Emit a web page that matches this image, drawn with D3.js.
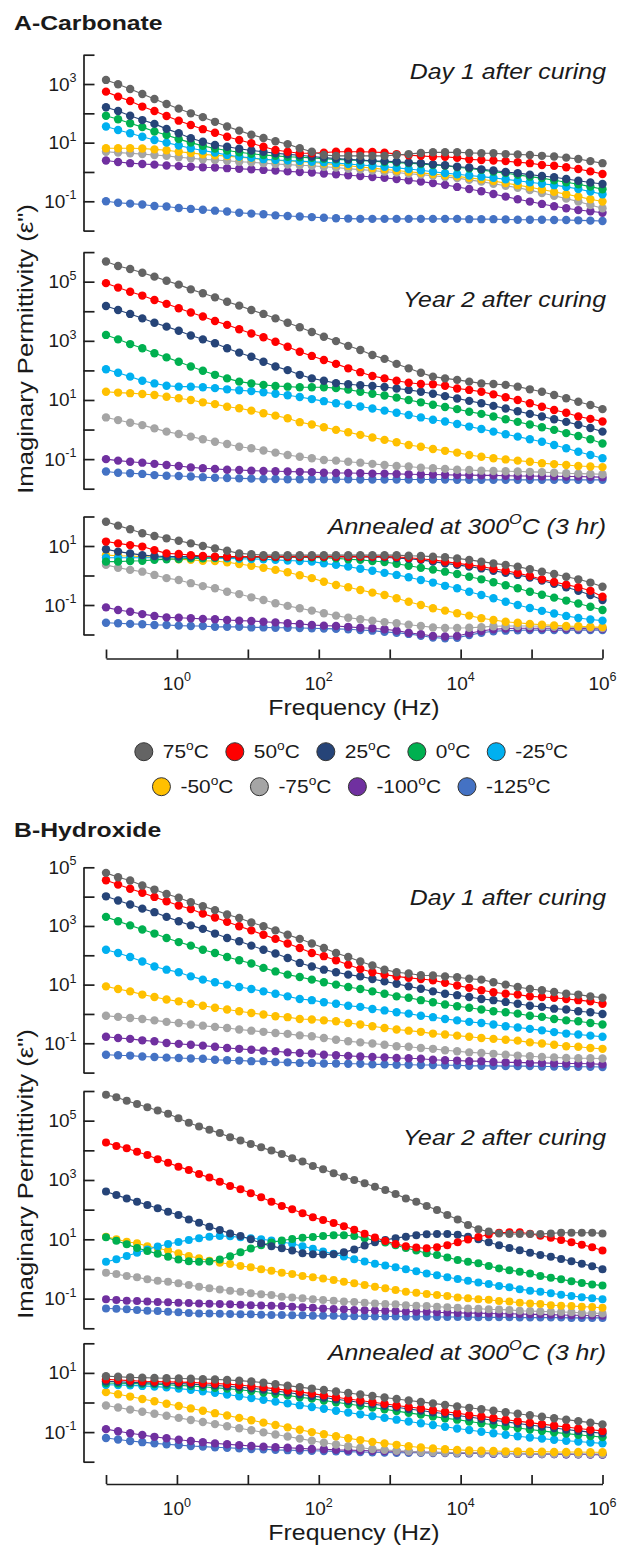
<!DOCTYPE html>
<html>
<head>
<meta charset="utf-8">
<script src="https://cdn.jsdelivr.net/npm/d3@7"></script>
<style>
  body { margin: 0; background: #fff; }
  text { font-family: "Liberation Sans", Arial, Helvetica, sans-serif; fill: #1a1a1a; }
</style>
</head>
<body>
<svg width="618" height="1547"></svg>
<script>
/****** DATA ******/

// Frequency sweep (Hz) used by most panels: 42 points
var freqHz = [0.1,0.148,0.219,0.325,0.482,0.714,1.06,1.57,2.32,3.44,5.10,7.55,11.2,16.6,24.5,36.4,53.9,79.8,
    118,175,260,385,570,845,1250,1850,2750,4070,6030,8930,13200,19600,29000,43100,63800,94600,140000,208000,308000,456000,675000,1000000];

// Finer sweep used by the hydroxide "Year 2" panel: 49 points
var freqHzB2 = [0.1,0.140,0.196,0.274,0.383,0.536,0.750,1.05,1.47,2.05,2.87,4.02,5.62,7.87,11.0,15.4,21.5,30.1,42.2,59.0,82.5,
    115,162,226,316,443,619,866,1210,1690,2370,3320,4640,6490,9090,12700,17800,24900,34800,48700,68100,95300,133000,187000,261000,365000,511000,715000,1000000];

var temps = ["75", "50", "25", "0", "-25", "-50", "-75", "-100", "-125"];
var colors = ["#646464", "#ff0000", "#264478", "#00b050", "#00b0f0", "#ffc000", "#a5a5a5", "#7030a0", "#4472c4"];

// Each panel: one row per temperature (same order as temps), values are log10(e'')
var carbDay1 = [
  [3.14,2.99,2.83,2.66,2.49,2.32,2.16,2.00,1.87,1.71,1.55,1.41,1.27,1.16,1.05,0.95,0.81,0.69,0.58,0.55,0.55,0.55,0.55,0.55,0.58,0.61,0.65,0.67,0.67,0.67,0.65,0.64,0.64,0.61,0.60,0.58,0.55,0.53,0.49,0.44,0.37,0.30],
  [2.74,2.57,2.42,2.23,2.08,1.91,1.75,1.60,1.46,1.34,1.20,1.09,0.98,0.86,0.75,0.69,0.64,0.64,0.66,0.69,0.69,0.69,0.68,0.66,0.61,0.57,0.55,0.52,0.52,0.48,0.43,0.41,0.39,0.37,0.33,0.30,0.24,0.21,0.16,0.10,0.02,-0.07],
  [2.21,2.08,1.92,1.77,1.64,1.47,1.32,1.15,1.03,0.92,0.86,0.79,0.73,0.69,0.64,0.60,0.57,0.53,0.49,0.46,0.43,0.41,0.38,0.37,0.35,0.32,0.30,0.26,0.23,0.18,0.15,0.09,0.05,0.00,-0.04,-0.09,-0.14,-0.18,-0.24,-0.30,-0.36,-0.41],
  [1.92,1.80,1.66,1.53,1.38,1.26,1.12,1.00,0.89,0.80,0.73,0.67,0.62,0.58,0.55,0.52,0.50,0.48,0.45,0.43,0.41,0.39,0.37,0.34,0.32,0.30,0.27,0.24,0.21,0.16,0.12,0.07,0.01,-0.04,-0.10,-0.16,-0.21,-0.28,-0.35,-0.42,-0.50,-0.59],
  [1.55,1.43,1.32,1.20,1.09,1.00,0.90,0.81,0.73,0.66,0.58,0.52,0.48,0.43,0.41,0.39,0.37,0.35,0.33,0.30,0.27,0.24,0.21,0.18,0.14,0.10,0.06,0.01,-0.04,-0.08,-0.12,-0.16,-0.20,-0.25,-0.30,-0.35,-0.40,-0.45,-0.51,-0.58,-0.67,-0.76],
  [0.81,0.81,0.81,0.80,0.77,0.74,0.69,0.65,0.60,0.57,0.54,0.50,0.47,0.43,0.40,0.38,0.35,0.33,0.29,0.25,0.21,0.17,0.13,0.09,0.05,0.01,-0.03,-0.07,-0.11,-0.15,-0.20,-0.25,-0.31,-0.38,-0.45,-0.52,-0.60,-0.68,-0.76,-0.84,-0.93,-1.01],
  [0.69,0.66,0.64,0.61,0.58,0.55,0.50,0.47,0.43,0.41,0.38,0.35,0.33,0.30,0.27,0.25,0.23,0.21,0.18,0.15,0.11,0.08,0.05,0.01,-0.02,-0.06,-0.09,-0.13,-0.17,-0.21,-0.27,-0.33,-0.40,-0.47,-0.54,-0.62,-0.72,-0.81,-0.91,-1.01,-1.13,-1.24],
  [0.39,0.34,0.30,0.27,0.25,0.22,0.20,0.18,0.16,0.15,0.13,0.11,0.09,0.07,0.05,0.02,0.00,-0.02,-0.05,-0.08,-0.11,-0.14,-0.17,-0.20,-0.24,-0.28,-0.33,-0.38,-0.44,-0.51,-0.58,-0.66,-0.75,-0.84,-0.93,-1.01,-1.09,-1.17,-1.24,-1.30,-1.34,-1.39],
  [-1.00,-1.05,-1.08,-1.11,-1.16,-1.18,-1.23,-1.26,-1.29,-1.32,-1.35,-1.39,-1.42,-1.44,-1.48,-1.50,-1.52,-1.54,-1.56,-1.58,-1.59,-1.60,-1.60,-1.60,-1.60,-1.60,-1.60,-1.60,-1.60,-1.60,-1.61,-1.61,-1.61,-1.62,-1.63,-1.63,-1.63,-1.64,-1.64,-1.65,-1.66,-1.67]
];

var carbYear2 = [
  [5.68,5.53,5.43,5.30,5.17,5.03,4.90,4.74,4.61,4.47,4.32,4.19,4.04,3.91,3.76,3.61,3.46,3.30,3.14,2.99,2.83,2.69,2.52,2.39,2.22,2.07,1.92,1.79,1.73,1.68,1.62,1.56,1.54,1.51,1.45,1.36,1.28,1.17,1.06,0.94,0.83,0.69],
  [4.95,4.80,4.66,4.53,4.38,4.25,4.10,3.96,3.82,3.67,3.54,3.39,3.25,3.12,2.97,2.80,2.63,2.49,2.35,2.22,2.07,1.94,1.81,1.73,1.65,1.58,1.54,1.53,1.48,1.39,1.34,1.28,1.19,1.09,1.00,0.89,0.77,0.66,0.57,0.44,0.36,0.27],
  [4.18,4.04,3.91,3.76,3.61,3.48,3.34,3.18,3.05,2.92,2.75,2.60,2.46,2.29,2.13,2.01,1.85,1.73,1.65,1.57,1.53,1.50,1.47,1.44,1.39,1.34,1.28,1.21,1.13,1.05,0.97,0.89,0.80,0.71,0.62,0.53,0.44,0.35,0.26,0.16,0.05,-0.07],
  [3.20,3.05,2.89,2.75,2.58,2.44,2.29,2.13,1.99,1.85,1.73,1.62,1.56,1.51,1.47,1.45,1.43,1.43,1.43,1.40,1.35,1.28,1.21,1.15,1.08,1.00,0.92,0.84,0.76,0.69,0.60,0.53,0.44,0.35,0.26,0.17,0.08,-0.01,-0.12,-0.22,-0.33,-0.47],
  [2.04,1.92,1.79,1.65,1.56,1.48,1.45,1.45,1.43,1.40,1.36,1.33,1.30,1.26,1.21,1.16,1.10,1.03,0.96,0.89,0.84,0.78,0.71,0.64,0.57,0.49,0.41,0.33,0.27,0.19,0.10,0.02,-0.07,-0.16,-0.24,-0.33,-0.41,-0.52,-0.63,-0.75,-0.86,-0.97],
  [1.28,1.25,1.23,1.20,1.17,1.11,1.06,1.00,0.92,0.86,0.77,0.72,0.64,0.55,0.47,0.38,0.25,0.17,0.08,-0.01,-0.09,-0.18,-0.27,-0.35,-0.43,-0.52,-0.58,-0.66,-0.72,-0.78,-0.86,-0.92,-0.97,-1.01,-1.05,-1.09,-1.14,-1.17,-1.20,-1.23,-1.25,-1.27],
  [0.41,0.32,0.23,0.15,0.04,-0.07,-0.15,-0.24,-0.33,-0.41,-0.49,-0.58,-0.63,-0.71,-0.78,-0.86,-0.92,-0.97,-1.03,-1.05,-1.09,-1.12,-1.16,-1.20,-1.23,-1.25,-1.29,-1.31,-1.33,-1.36,-1.37,-1.39,-1.40,-1.41,-1.42,-1.43,-1.44,-1.46,-1.48,-1.49,-1.50,-1.51],
  [-1.00,-1.05,-1.09,-1.12,-1.16,-1.20,-1.23,-1.28,-1.31,-1.33,-1.36,-1.37,-1.39,-1.40,-1.41,-1.42,-1.43,-1.44,-1.46,-1.47,-1.47,-1.48,-1.49,-1.49,-1.50,-1.51,-1.52,-1.52,-1.53,-1.54,-1.54,-1.55,-1.55,-1.56,-1.57,-1.57,-1.58,-1.58,-1.59,-1.59,-1.60,-1.61],
  [-1.42,-1.46,-1.48,-1.50,-1.54,-1.56,-1.57,-1.59,-1.61,-1.63,-1.64,-1.65,-1.66,-1.67,-1.67,-1.68,-1.68,-1.68,-1.68,-1.68,-1.68,-1.69,-1.69,-1.69,-1.69,-1.69,-1.69,-1.69,-1.69,-1.70,-1.70,-1.70,-1.70,-1.70,-1.70,-1.70,-1.70,-1.70,-1.70,-1.70,-1.70,-1.70]
];

var carbAnneal = [
  [1.82,1.69,1.57,1.43,1.34,1.26,1.18,1.09,1.00,0.92,0.84,0.75,0.72,0.69,0.69,0.69,0.69,0.69,0.69,0.69,0.69,0.69,0.69,0.69,0.69,0.67,0.66,0.64,0.62,0.58,0.53,0.47,0.41,0.36,0.30,0.21,0.13,0.05,-0.04,-0.13,-0.24,-0.38],
  [1.15,1.09,1.03,0.98,0.86,0.75,0.73,0.69,0.66,0.64,0.64,0.64,0.64,0.64,0.64,0.64,0.64,0.64,0.64,0.64,0.64,0.64,0.64,0.64,0.63,0.60,0.57,0.53,0.47,0.41,0.36,0.30,0.23,0.16,0.08,-0.02,-0.13,-0.22,-0.31,-0.40,-0.52,-0.72],
  [0.89,0.81,0.75,0.69,0.66,0.64,0.64,0.64,0.64,0.63,0.63,0.63,0.63,0.63,0.63,0.63,0.63,0.63,0.63,0.63,0.63,0.63,0.62,0.62,0.59,0.57,0.53,0.47,0.41,0.36,0.30,0.24,0.16,0.09,0.02,-0.07,-0.17,-0.28,-0.40,-0.52,-0.66,-0.83],
  [0.47,0.47,0.49,0.50,0.53,0.55,0.56,0.58,0.58,0.60,0.62,0.62,0.62,0.62,0.62,0.62,0.62,0.61,0.60,0.58,0.55,0.53,0.49,0.46,0.40,0.33,0.26,0.20,0.13,0.05,-0.04,-0.13,-0.23,-0.33,-0.43,-0.55,-0.65,-0.75,-0.85,-0.95,-1.06,-1.17],
  [0.60,0.60,0.60,0.60,0.60,0.60,0.60,0.60,0.60,0.59,0.58,0.57,0.56,0.55,0.53,0.51,0.49,0.47,0.41,0.36,0.30,0.23,0.16,0.09,0.02,-0.06,-0.15,-0.24,-0.35,-0.43,-0.55,-0.66,-0.77,-0.89,-1.00,-1.10,-1.20,-1.29,-1.37,-1.44,-1.49,-1.53],
  [0.69,0.67,0.66,0.64,0.62,0.58,0.55,0.53,0.50,0.49,0.45,0.39,0.33,0.26,0.19,0.11,0.01,-0.09,-0.21,-0.32,-0.40,-0.49,-0.58,-0.66,-0.77,-0.89,-1.00,-1.11,-1.19,-1.28,-1.36,-1.45,-1.51,-1.57,-1.60,-1.64,-1.67,-1.69,-1.71,-1.72,-1.74,-1.75],
  [0.36,0.26,0.19,0.13,0.02,-0.09,-0.15,-0.26,-0.36,-0.43,-0.55,-0.63,-0.74,-0.83,-0.94,-1.03,-1.11,-1.19,-1.28,-1.36,-1.43,-1.48,-1.53,-1.58,-1.62,-1.67,-1.71,-1.76,-1.78,-1.78,-1.77,-1.75,-1.72,-1.71,-1.71,-1.71,-1.72,-1.74,-1.75,-1.76,-1.77,-1.78],
  [-1.08,-1.17,-1.23,-1.31,-1.37,-1.42,-1.43,-1.45,-1.47,-1.48,-1.51,-1.53,-1.54,-1.57,-1.59,-1.62,-1.64,-1.68,-1.70,-1.71,-1.74,-1.77,-1.79,-1.82,-1.87,-1.94,-1.99,-2.05,-2.07,-2.05,-1.96,-1.88,-1.82,-1.80,-1.79,-1.79,-1.79,-1.79,-1.80,-1.80,-1.80,-1.81],
  [-1.60,-1.62,-1.64,-1.65,-1.68,-1.68,-1.70,-1.71,-1.71,-1.74,-1.74,-1.74,-1.76,-1.76,-1.77,-1.77,-1.78,-1.79,-1.80,-1.81,-1.82,-1.85,-1.87,-1.91,-1.94,-1.98,-2.04,-2.10,-2.13,-2.11,-2.02,-1.94,-1.89,-1.87,-1.86,-1.85,-1.85,-1.85,-1.85,-1.85,-1.85,-1.85]
];

var hydDay1 = [
  [4.81,4.66,4.55,4.38,4.24,4.09,3.96,3.81,3.67,3.54,3.39,3.27,3.12,2.99,2.85,2.70,2.56,2.40,2.25,2.08,1.94,1.79,1.65,1.51,1.42,1.38,1.32,1.31,1.28,1.25,1.20,1.17,1.08,1.00,0.92,0.85,0.81,0.75,0.69,0.66,0.60,0.55],
  [4.56,4.41,4.27,4.13,3.99,3.84,3.70,3.58,3.42,3.29,3.14,2.99,2.85,2.70,2.56,2.40,2.25,2.08,1.97,1.83,1.68,1.53,1.42,1.34,1.28,1.23,1.19,1.15,1.06,0.97,0.89,0.81,0.74,0.69,0.66,0.60,0.58,0.55,0.51,0.47,0.43,0.35],
  [4.01,3.87,3.73,3.59,3.47,3.31,3.16,3.02,2.90,2.74,2.59,2.48,2.33,2.19,2.06,1.91,1.74,1.62,1.51,1.42,1.34,1.28,1.19,1.11,1.03,0.94,0.86,0.77,0.69,0.64,0.58,0.51,0.47,0.41,0.35,0.28,0.24,0.18,0.15,0.09,0.06,0.00],
  [3.31,3.16,3.02,2.88,2.74,2.59,2.45,2.33,2.19,2.08,1.94,1.83,1.72,1.57,1.45,1.34,1.26,1.17,1.08,1.00,0.92,0.85,0.77,0.69,0.60,0.55,0.47,0.40,0.32,0.26,0.21,0.15,0.09,0.06,0.01,-0.06,-0.10,-0.17,-0.22,-0.25,-0.31,-0.36],
  [2.19,2.08,1.94,1.79,1.62,1.51,1.42,1.28,1.17,1.08,1.00,0.92,0.85,0.77,0.69,0.60,0.51,0.47,0.40,0.35,0.28,0.24,0.17,0.12,0.06,0.01,-0.06,-0.11,-0.17,-0.22,-0.27,-0.31,-0.36,-0.42,-0.46,-0.51,-0.56,-0.62,-0.67,-0.70,-0.74,-0.78],
  [0.94,0.85,0.77,0.66,0.58,0.49,0.43,0.35,0.28,0.21,0.15,0.09,0.03,-0.02,-0.08,-0.11,-0.17,-0.19,-0.22,-0.25,-0.31,-0.36,-0.42,-0.48,-0.53,-0.57,-0.61,-0.67,-0.70,-0.74,-0.78,-0.82,-0.85,-0.88,-0.91,-0.97,-1.01,-1.05,-1.10,-1.12,-1.16,-1.19],
  [-0.06,-0.10,-0.14,-0.17,-0.22,-0.27,-0.31,-0.36,-0.40,-0.44,-0.48,-0.53,-0.57,-0.61,-0.65,-0.68,-0.73,-0.76,-0.82,-0.88,-0.93,-0.97,-1.01,-1.05,-1.10,-1.12,-1.16,-1.19,-1.24,-1.27,-1.31,-1.33,-1.36,-1.39,-1.42,-1.44,-1.47,-1.48,-1.50,-1.51,-1.51,-1.52],
  [-0.78,-0.82,-0.85,-0.90,-0.93,-0.99,-1.02,-1.05,-1.08,-1.12,-1.16,-1.19,-1.22,-1.25,-1.27,-1.31,-1.33,-1.35,-1.39,-1.41,-1.43,-1.45,-1.47,-1.48,-1.50,-1.51,-1.53,-1.56,-1.58,-1.59,-1.61,-1.61,-1.64,-1.65,-1.65,-1.67,-1.67,-1.68,-1.69,-1.69,-1.70,-1.72],
  [-1.39,-1.41,-1.42,-1.45,-1.47,-1.49,-1.50,-1.52,-1.53,-1.56,-1.58,-1.59,-1.61,-1.61,-1.64,-1.65,-1.67,-1.67,-1.69,-1.69,-1.70,-1.70,-1.72,-1.72,-1.73,-1.73,-1.74,-1.74,-1.75,-1.75,-1.77,-1.77,-1.77,-1.78,-1.78,-1.78,-1.79,-1.79,-1.79,-1.80,-1.80,-1.81]
];

var hydYear2 = [
  [5.87,5.79,5.67,5.56,5.45,5.34,5.23,5.08,4.93,4.80,4.69,4.58,4.44,4.33,4.21,4.10,3.99,3.88,3.73,3.62,3.47,3.36,3.23,3.11,3.00,2.89,2.77,2.66,2.53,2.38,2.27,2.12,1.99,1.82,1.67,1.48,1.34,1.26,1.20,1.18,1.18,1.18,1.18,1.20,1.22,1.22,1.22,1.22,1.20],
  [4.26,4.15,4.07,3.95,3.84,3.70,3.58,3.45,3.34,3.20,3.08,2.94,2.80,2.69,2.55,2.42,2.27,2.12,2.01,1.88,1.74,1.65,1.55,1.44,1.32,1.19,1.06,0.94,0.84,0.77,0.72,0.70,0.73,0.80,0.90,0.99,1.08,1.16,1.22,1.24,1.24,1.19,1.12,1.05,0.98,0.90,0.82,0.73,0.62],
  [2.61,2.49,2.38,2.27,2.16,2.05,1.93,1.82,1.67,1.56,1.42,1.31,1.20,1.11,1.00,0.87,0.77,0.70,0.62,0.53,0.50,0.49,0.50,0.56,0.66,0.79,0.90,0.98,1.04,1.09,1.14,1.17,1.18,1.18,1.15,1.09,1.00,0.90,0.80,0.71,0.63,0.55,0.47,0.41,0.34,0.26,0.18,0.09,-0.01],
  [1.07,0.95,0.83,0.71,0.61,0.51,0.41,0.32,0.26,0.24,0.25,0.32,0.43,0.56,0.69,0.80,0.89,0.96,1.01,1.05,1.08,1.11,1.14,1.14,1.11,1.04,0.96,0.89,0.80,0.71,0.62,0.53,0.47,0.39,0.30,0.24,0.19,0.10,0.02,-0.04,-0.09,-0.15,-0.24,-0.30,-0.35,-0.41,-0.47,-0.52,-0.56],
  [0.24,0.33,0.44,0.55,0.66,0.76,0.84,0.91,0.98,1.04,1.09,1.11,1.10,1.07,1.04,1.00,0.96,0.91,0.85,0.77,0.68,0.59,0.51,0.42,0.33,0.25,0.18,0.12,0.06,-0.01,-0.08,-0.15,-0.21,-0.28,-0.34,-0.40,-0.46,-0.51,-0.57,-0.62,-0.68,-0.73,-0.77,-0.82,-0.87,-0.91,-0.95,-0.99,-1.02],
  [1.09,1.00,0.92,0.87,0.77,0.70,0.62,0.53,0.44,0.36,0.28,0.21,0.17,0.10,0.06,-0.01,-0.06,-0.13,-0.17,-0.24,-0.28,-0.32,-0.37,-0.43,-0.48,-0.54,-0.60,-0.65,-0.71,-0.77,-0.80,-0.84,-0.88,-0.91,-0.96,-0.99,-1.02,-1.04,-1.08,-1.10,-1.14,-1.16,-1.18,-1.22,-1.24,-1.25,-1.27,-1.28,-1.31],
  [-0.13,-0.17,-0.24,-0.28,-0.35,-0.40,-0.43,-0.48,-0.54,-0.60,-0.65,-0.69,-0.73,-0.77,-0.82,-0.85,-0.88,-0.94,-0.96,-0.99,-1.02,-1.05,-1.07,-1.10,-1.11,-1.14,-1.16,-1.18,-1.19,-1.22,-1.24,-1.25,-1.27,-1.29,-1.31,-1.33,-1.34,-1.36,-1.37,-1.38,-1.41,-1.42,-1.43,-1.44,-1.45,-1.46,-1.48,-1.49,-1.50],
  [-1.02,-1.05,-1.07,-1.08,-1.10,-1.11,-1.12,-1.14,-1.15,-1.16,-1.17,-1.18,-1.19,-1.21,-1.22,-1.23,-1.24,-1.25,-1.27,-1.29,-1.31,-1.33,-1.35,-1.36,-1.38,-1.39,-1.40,-1.41,-1.42,-1.43,-1.44,-1.44,-1.46,-1.47,-1.48,-1.49,-1.49,-1.50,-1.51,-1.51,-1.52,-1.53,-1.53,-1.54,-1.55,-1.56,-1.56,-1.57,-1.58],
  [-1.33,-1.34,-1.36,-1.38,-1.41,-1.42,-1.44,-1.46,-1.48,-1.50,-1.50,-1.51,-1.52,-1.53,-1.53,-1.54,-1.55,-1.55,-1.56,-1.56,-1.58,-1.58,-1.58,-1.59,-1.59,-1.59,-1.60,-1.60,-1.60,-1.61,-1.61,-1.61,-1.62,-1.62,-1.62,-1.62,-1.63,-1.63,-1.63,-1.63,-1.64,-1.64,-1.64,-1.64,-1.64,-1.65,-1.65,-1.65,-1.65]
];

var hydAnneal = [
  [0.89,0.87,0.85,0.84,0.83,0.82,0.81,0.80,0.79,0.78,0.76,0.74,0.71,0.67,0.62,0.57,0.52,0.47,0.42,0.37,0.32,0.27,0.22,0.17,0.12,0.07,0.02,-0.03,-0.08,-0.13,-0.18,-0.23,-0.28,-0.33,-0.38,-0.43,-0.48,-0.53,-0.58,-0.63,-0.68,-0.74],
  [0.78,0.76,0.74,0.72,0.71,0.70,0.69,0.68,0.66,0.64,0.62,0.59,0.55,0.51,0.46,0.41,0.36,0.30,0.24,0.18,0.12,0.07,0.01,-0.04,-0.10,-0.15,-0.20,-0.26,-0.31,-0.36,-0.42,-0.47,-0.52,-0.58,-0.63,-0.68,-0.73,-0.78,-0.83,-0.88,-0.92,-0.96],
  [0.72,0.70,0.68,0.67,0.66,0.65,0.64,0.62,0.60,0.58,0.55,0.52,0.48,0.44,0.39,0.34,0.28,0.22,0.17,0.11,0.06,0.00,-0.05,-0.11,-0.16,-0.22,-0.27,-0.33,-0.38,-0.44,-0.49,-0.55,-0.60,-0.65,-0.71,-0.76,-0.81,-0.86,-0.91,-0.96,-1.00,-1.04],
  [0.66,0.65,0.64,0.63,0.62,0.60,0.58,0.56,0.53,0.50,0.47,0.43,0.39,0.34,0.29,0.24,0.18,0.13,0.07,0.01,-0.05,-0.11,-0.17,-0.23,-0.29,-0.35,-0.41,-0.47,-0.53,-0.58,-0.64,-0.70,-0.75,-0.81,-0.86,-0.91,-0.96,-1.01,-1.05,-1.09,-1.13,-1.17],
  [0.60,0.59,0.58,0.56,0.54,0.51,0.47,0.43,0.38,0.33,0.27,0.21,0.15,0.09,0.03,-0.03,-0.09,-0.15,-0.21,-0.28,-0.34,-0.40,-0.46,-0.52,-0.58,-0.64,-0.70,-0.76,-0.82,-0.88,-0.93,-0.99,-1.04,-1.09,-1.14,-1.18,-1.22,-1.26,-1.29,-1.32,-1.35,-1.38],
  [0.35,0.28,0.20,0.12,0.04,-0.04,-0.12,-0.20,-0.28,-0.36,-0.44,-0.52,-0.60,-0.68,-0.76,-0.84,-0.92,-1.00,-1.07,-1.14,-1.21,-1.27,-1.33,-1.38,-1.43,-1.48,-1.52,-1.55,-1.58,-1.60,-1.62,-1.63,-1.64,-1.65,-1.65,-1.66,-1.66,-1.67,-1.67,-1.67,-1.68,-1.68],
  [-0.10,-0.17,-0.24,-0.31,-0.38,-0.45,-0.52,-0.59,-0.66,-0.73,-0.80,-0.87,-0.94,-1.01,-1.08,-1.15,-1.22,-1.29,-1.36,-1.42,-1.48,-1.53,-1.57,-1.60,-1.63,-1.65,-1.67,-1.68,-1.69,-1.70,-1.70,-1.71,-1.71,-1.72,-1.72,-1.72,-1.73,-1.73,-1.73,-1.74,-1.74,-1.74],
  [-0.90,-0.97,-1.04,-1.10,-1.16,-1.21,-1.26,-1.30,-1.34,-1.38,-1.41,-1.44,-1.47,-1.49,-1.51,-1.53,-1.55,-1.57,-1.58,-1.60,-1.61,-1.62,-1.63,-1.64,-1.65,-1.66,-1.67,-1.68,-1.69,-1.70,-1.71,-1.71,-1.72,-1.72,-1.73,-1.73,-1.74,-1.74,-1.75,-1.75,-1.76,-1.76],
  [-1.20,-1.25,-1.30,-1.34,-1.38,-1.41,-1.44,-1.47,-1.49,-1.51,-1.53,-1.55,-1.57,-1.58,-1.60,-1.61,-1.62,-1.63,-1.64,-1.65,-1.66,-1.67,-1.68,-1.69,-1.70,-1.70,-1.70,-1.71,-1.71,-1.72,-1.72,-1.72,-1.73,-1.73,-1.73,-1.74,-1.74,-1.74,-1.75,-1.75,-1.75,-1.76]
];

/****** LAYOUT ******/

var svg = d3.select("svg");
var axisX = 83.5;          // x of every y axis
var plotLeft = 106, plotRight = 602.5;

var panels = [
  {rows: carbDay1,   freq: freqHz,   top: 1e4, yTop: 54.7,   yBot: 230.6,  note: ["Day 1 after curing"],  noteY: 79},
  {rows: carbYear2,  freq: freqHz,   top: 1e6, yTop: 252.1,  yBot: 488.7,  note: ["Year 2 after curing"], noteY: 306.7},
  {rows: carbAnneal, freq: freqHz,   top: 1e2, yTop: 516.5,  yBot: 634.5,  note: ["Annealed at 300", "^O", "C (3 hr)"], noteY: 534},
  {rows: hydDay1,    freq: freqHz,   top: 1e5, yTop: 867.3,  yBot: 1072.6, note: ["Day 1 after curing"],  noteY: 905},
  {rows: hydYear2,   freq: freqHzB2, top: 1e6, yTop: 1091,   yBot: 1328.3, note: ["Year 2 after curing"], noteY: 1145, r: 4.0},
  {rows: hydAnneal,  freq: freqHz,   top: 1e2, yTop: 1343.3, yBot: 1461.7, note: ["Annealed at 300", "^O", "C (3 hr)"], noteY: 1360}
];

var x = d3.scaleLog().domain([0.1, 1e6]).range([plotLeft, plotRight]);

// Text helper: parts beginning with "^" become superscripts; sx stretches horizontally
function richText(parent, tx, ty, parts, o) {
  var g = parent.append("g").attr("transform",
      "translate(" + tx + "," + ty + ")" +
      (o.rotate ? " rotate(" + o.rotate + ")" : "") +
      " scale(" + (o.sx || 1) + ",1)");
  var t = g.append("text")
      .attr("text-anchor", o.anchor || "start")
      .style("font-size", o.size + "px")
      .style("font-weight", o.weight || "normal")
      .style("font-style", o.style || "normal");
  var raised = false;
  var lift = o.size * 0.44;
  parts.forEach(function(p) {
    var sup = p.charAt(0) === "^";
    var s = t.append("tspan").text(sup ? p.slice(1) : p);
    if (sup) {
      s.attr("dy", -lift).style("font-size", (o.size * 0.66) + "px");
      raised = true;
    } else if (raised) {
      s.attr("dy", lift);
      raised = false;
    }
  });
  return g;
}

function styleAxis(g) {
  g.attr("color", "#1e1e1e");
  g.selectAll("path, line").attr("stroke-width", 1.7);
  g.selectAll(".tick text").remove();
}

/****** PANELS ******/

panels.forEach(function(p) {
  var y = d3.scaleLog().domain([1e-2, p.top]).range([p.yBot, p.yTop]);
  var decades = d3.range(-2, Math.round(Math.log10(p.top)) + 1);

  var yAxis = d3.axisLeft(y)
      .tickValues(decades.map(function(e) { return Math.pow(10, e); }))
      .tickSizeInner(-11)
      .tickSizeOuter(0);
  svg.append("g")
      .attr("transform", "translate(" + axisX + ",0)")
      .call(yAxis)
      .call(styleAxis);

  // labels on odd decades only
  decades.filter(function(e) { return Math.abs(e) % 2 === 1; }).forEach(function(e) {
    richText(svg, axisX - 7, y(Math.pow(10, e)) + 6.5, ["10", "^" + e], {size: 19, anchor: "end"});
  });

  var line = d3.line()
      .x(function(d, i) { return x(p.freq[i]); })
      .y(function(d) { return y(Math.pow(10, d)); });

  var r = p.r || 4.2;
  // coldest first so that 75 °C ends on top
  for (var s = p.rows.length - 1; s >= 0; s--) {
    var g = svg.append("g");
    g.append("path")
        .attr("d", line(p.rows[s]))
        .attr("fill", "none")
        .attr("stroke", colors[s])
        .attr("stroke-width", 1.1);
    g.selectAll("circle")
        .data(p.rows[s])
        .enter().append("circle")
        .attr("cx", function(d, i) { return x(p.freq[i]); })
        .attr("cy", function(d) { return y(Math.pow(10, d)); })
        .attr("r", r)
        .attr("fill", colors[s]);
  }

  richText(svg, 606, p.noteY, p.note, {size: 22, style: "italic", anchor: "end", sx: 1.13});
});

/****** X AXES, TITLES ******/

[658.5, 1484].forEach(function(ay) {
  var xAxis = d3.axisBottom(x)
      .tickValues(d3.range(-1, 7).map(function(e) { return Math.pow(10, e); }))
      .tickSizeInner(-9)
      .tickSizeOuter(0);
  svg.append("g")
      .attr("transform", "translate(0," + ay + ")")
      .call(xAxis)
      .call(styleAxis);
  [0, 2, 4, 6].forEach(function(e) {
    richText(svg, x(Math.pow(10, e)), ay + 31, ["10", "^" + e], {size: 19, anchor: "middle"});
  });
  richText(svg, 354, ay + 56, ["Frequency (Hz)"], {size: 22, anchor: "middle", sx: 1.13});
});

richText(svg, 33, 349, ["Imaginary Permittivity (\u03b5\")"], {size: 22, anchor: "middle", rotate: -90, sx: 1.166});
richText(svg, 33, 1174, ["Imaginary Permittivity (\u03b5\")"], {size: 22, anchor: "middle", rotate: -90, sx: 1.166});

richText(svg, 14, 30, ["A-Carbonate"], {size: 21, weight: "bold", sx: 1.18});
richText(svg, 14, 837, ["B-Hydroxide"], {size: 21, weight: "bold", sx: 1.18});

/****** LEGEND ******/

var legendRows = [[0, 1, 2, 3, 4], [5, 6, 7, 8]];
var legendSx = 1.1;
legendRows.forEach(function(row, ri) {
  var cy = 751.7 + ri * 35;
  var items = row.map(function(i) {
    var g = svg.append("g");
    g.append("circle")
        .attr("r", 9)
        .attr("fill", colors[i])
        .attr("stroke", "#333")
        .attr("stroke-width", 1);
    var tg = richText(g, 19, 6.5, [temps[i], "^o", "C"], {size: 19, sx: legendSx});
    var w = tg.select("text").node().getComputedTextLength() * legendSx;
    return {g: g, w: 19 + 9 + w};
  });
  var gap = 17;
  var total = d3.sum(items, function(d) { return d.w; }) + gap * (items.length - 1);
  var cx = 351.5 - total / 2 + 9;
  items.forEach(function(it) {
    it.g.attr("transform", "translate(" + cx + "," + cy + ")");
    cx += it.w + gap;
  });
});
</script>
</body>
</html>
